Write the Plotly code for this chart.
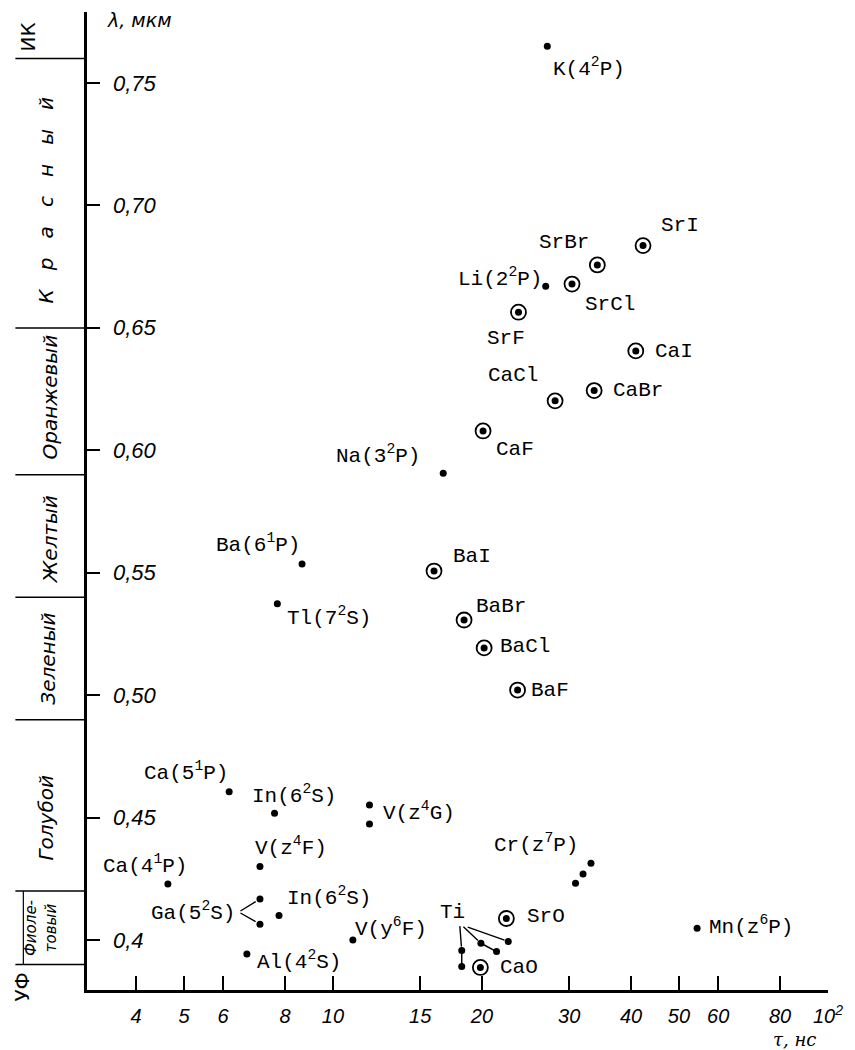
import numpy as np
import plotly.graph_objects as go

# ---------------- data ----------------
atom_labels = ["K(4<sup>2</sup>P)", "Li(2<sup>2</sup>P)", "Na(3<sup>2</sup>P)", "Ba(6<sup>1</sup>P)",
               "Tl(7<sup>2</sup>S)", "Ca(5<sup>1</sup>P)", "In(6<sup>2</sup>S)", "V(z<sup>4</sup>G)",
               "V(z<sup>4</sup>F)", "Ca(4<sup>1</sup>P)", "Ga(5<sup>2</sup>S)", "In(6<sup>2</sup>S)",
               "V(y<sup>6</sup>F)", "Al(4<sup>2</sup>S)", "Ti", "Cr(z<sup>7</sup>P)", "Mn(z<sup>6</sup>P)"]
atom_tau = [[27.1], [26.9], [16.7], [8.66], [7.72], [6.17], [7.62], [11.85, 11.85],
            [7.12], [4.64], [7.12, 7.12], [7.78], [10.97], [6.70],
            [18.2, 18.2, 19.9, 21.4, 22.6], [30.9, 32.0, 33.2], [54.4]]
atom_lam = [[0.765], [0.667], [0.5906], [0.5536], [0.5373], [0.4606], [0.4518], [0.4552, 0.4474],
            [0.430], [0.4229], [0.4168, 0.4065], [0.410], [0.400], [0.3943],
            [0.3957, 0.3892, 0.3987, 0.3953, 0.3994], [0.4232, 0.427, 0.4314], [0.4048]]

mol_labels = ["SrI", "SrBr", "SrCl", "SrF", "CaI", "CaBr", "CaCl", "CaF",
              "BaI", "BaBr", "BaCl", "BaF", "SrO", "CaO"]
mol_tau = [42.3, 34.2, 30.4, 23.7, 40.9, 33.7, 28.1, 20.1, 16.0, 18.4, 20.2, 23.6, 22.4, 19.85]
mol_lam = [0.6836, 0.6757, 0.6679, 0.6564, 0.6406, 0.6244, 0.6202, 0.6079,
           0.5507, 0.5307, 0.5193, 0.5021, 0.4088, 0.3888]

band_names = ["УФ", "Фиоле-<br>товый", "Голубой", "Зеленый", "Желтый", "Оранжевый",
              "К\u00a0\u00a0\u00a0р\u00a0\u00a0\u00a0а\u00a0\u00a0\u00a0с\u00a0\u00a0\u00a0н\u00a0\u00a0\u00a0ы\u00a0\u00a0\u00a0й", "ИК"]
band_edges = [0.3796, 0.39, 0.42, 0.49, 0.54, 0.59, 0.65, 0.76, 0.779]

x_ticks = [4, 5, 6, 8, 10, 15, 20, 30, 40, 50, 60, 80, 100]
x_ticktext = ["4", "5", "6", "8", "10", "15", "20", "30", "40", "50", "60", "80", "10<sup>2</sup>"]
y_ticks = [0.40, 0.45, 0.50, 0.55, 0.60, 0.65, 0.70, 0.75]
y_ticktext = ["0,4", "0,45", "0,50", "0,55", "0,60", "0,65", "0,70", "0,75"]

# ---------------- styles / label placement (pixel offsets: dx right, dy down) ----------------
atom_off = [(42, 21), (-46, -9), (-65, -19), (-44, -20), (52, 13), (-43, -20), (19, -19), (50, 7),
            (31, -20), (-23, -19), (-67, 13), (50, -19), (38, -13), (52, 6), (-9, -38), (-40, -40), (54, -3)]
mol_off = [(37, -20), (-33, -22), (38, 20), (-12, 26), (38, 1), (44, 0), (-42, -25), (32, 19),
           (38, -15), (37, -14), (41, -1), (32, 0), (40, -2), (39, 0)]
band_x = [22, 41, 46, 48, 50, 50, 46, 28]
band_dy = [10, 0, 12, 0, 4, -4, 7, 2]
band_italic = [False, True, True, True, True, True, True, False]

W, H = 855, 1050
L, R, T, B = 87, 23, 12, 60
PW = W - L - R
PH = H - T - B
LABEL_FONT = dict(family="Liberation Mono, DejaVu Sans Mono, monospace", size=21, color="black")
ITAL = dict(family="Liberation Sans, Arial, sans-serif", size=22, color="black", style="italic")

fig = go.Figure()

# atom points
ax_all = [t for g in atom_tau for t in g]
ay_all = [l for g in atom_lam for l in g]
fig.add_trace(go.Scatter(x=ax_all, y=ay_all, mode="markers",
                         marker=dict(size=7, color="black"), hoverinfo="skip", showlegend=False))

# Ti multiplet connectors
ti = atom_labels.index("Ti")
for a, b in [(0, 1), (2, 3)]:
    fig.add_trace(go.Scatter(x=[atom_tau[ti][a], atom_tau[ti][b]], y=[atom_lam[ti][a], atom_lam[ti][b]],
                             mode="lines", line=dict(color="black", width=1.5),
                             hoverinfo="skip", showlegend=False))

# molecule points (circled dots)
fig.add_trace(go.Scatter(x=mol_tau, y=mol_lam, mode="markers",
                         marker=dict(size=15, symbol="circle-open", color="black", line=dict(width=1.8, color="black")),
                         hoverinfo="skip", showlegend=False))
fig.add_trace(go.Scatter(x=mol_tau, y=mol_lam, mode="markers",
                         marker=dict(size=7, color="black"), hoverinfo="skip", showlegend=False))

ann = []
for lab, ts, ls, (dx, dy) in zip(atom_labels, atom_tau, atom_lam, atom_off):
    ann.append(dict(x=np.log10(ts[0]), y=ls[0], xref="x", yref="y", text=lab, showarrow=False,
                    xshift=dx, yshift=-dy, font=LABEL_FONT, xanchor="center", yanchor="middle"))
for lab, t, l, (dx, dy) in zip(mol_labels, mol_tau, mol_lam, mol_off):
    ann.append(dict(x=np.log10(t), y=l, xref="x", yref="y", text=lab, showarrow=False,
                    xshift=dx, yshift=-dy, font=LABEL_FONT, xanchor="center", yanchor="middle"))

# Ti leader lines (point index, tail offset)
for idx, axp, ayp in [(0, -2, -26), (2, -19, -18), (4, -42, -15)]:
    ann.append(dict(x=np.log10(atom_tau[ti][idx]), y=atom_lam[ti][idx], xref="x", yref="y", text="",
                    showarrow=True, arrowhead=0, ax=axp, ay=ayp, standoff=4, arrowwidth=1.4, arrowcolor="black"))
# Ga bracket
ga = atom_labels.index("Ga(5<sup>2</sup>S)")
for idx, axp, ayp in [(0, -21, 13), (1, -21, -12)]:
    ann.append(dict(x=np.log10(atom_tau[ga][idx]), y=atom_lam[ga][idx], xref="x", yref="y", text="",
                    showarrow=True, arrowhead=0, ax=axp, ay=ayp, standoff=5, arrowwidth=1.4, arrowcolor="black"))

# y tick labels (to the right of the axis, inside the plot)
for v, t in zip(y_ticks, y_ticktext):
    ann.append(dict(x=0, y=v, xref="x domain", yref="y", text=t, showarrow=False,
                    xanchor="left", yanchor="middle", xshift=24, font=ITAL))

# spectral band labels
for i, name in enumerate(band_names):
    yc = 0.5 * (band_edges[i] + band_edges[i + 1])
    f = dict(family="DejaVu Sans, sans-serif", size=20, color="black")
    if band_italic[i]:
        f["style"] = "italic"
    if i == 1:
        f["size"] = 15
    ann.append(dict(x=(band_x[i] - L) / PW, y=yc, xref="x domain", yref="y", text=name,
                    showarrow=False, textangle=-90, font=f, yshift=-band_dy[i],
                    xanchor="center", yanchor="middle"))

# axis titles
ann.append(dict(x=(139 - L) / PW, y=1 - (20 - T) / PH, xref="x domain", yref="y domain",
                xanchor="center", yanchor="middle",
                text="λ, мкм", showarrow=False, font=dict(family="DejaVu Sans", size=19, style="italic", color="black")))
ann.append(dict(x=(798 - L) / PW, y=1 - (1039 - T) / PH, xref="x domain", yref="y domain",
                xanchor="center", yanchor="middle",
                text="τ, нс", showarrow=False, font=dict(family="DejaVu Serif", size=18, style="italic", color="black")))

# band separators
shapes = []
for e in band_edges[1:-1]:
    shapes.append(dict(type="line", xref="x domain", yref="y", x0=(15 - L) / PW, x1=0, y0=e, y1=e,
                       line=dict(color="black", width=1.5)))
shapes.append(dict(type="line", xref="x domain", yref="y", x0=(23 - L) / PW, x1=(23 - L) / PW,
                   y0=band_edges[1], y1=band_edges[2], line=dict(color="black", width=1.2)))

fig.update_layout(
    width=W, height=H, margin=dict(l=L, r=R, t=T, b=B),
    paper_bgcolor="white", plot_bgcolor="white",
    annotations=ann, shapes=shapes, showlegend=False,
    xaxis=dict(type="log", range=[np.log10(3.185), 2], tickvals=x_ticks, ticktext=x_ticktext,
               ticks="inside", ticklen=14, tickwidth=1.5, tickcolor="black",
               showline=True, linewidth=3, linecolor="black", showgrid=False, zeroline=False,
               tickfont=dict(family="Liberation Sans, Arial", size=20, style="italic", color="black"),
               ticklabelstandoff=6),
    yaxis=dict(range=[band_edges[0], band_edges[-1]], tickvals=y_ticks, showticklabels=False,
               ticks="inside", ticklen=13, tickwidth=1.5, tickcolor="black",
               showline=True, linewidth=3, linecolor="black", showgrid=False, zeroline=False),
)

fig.write_html("out.html")
